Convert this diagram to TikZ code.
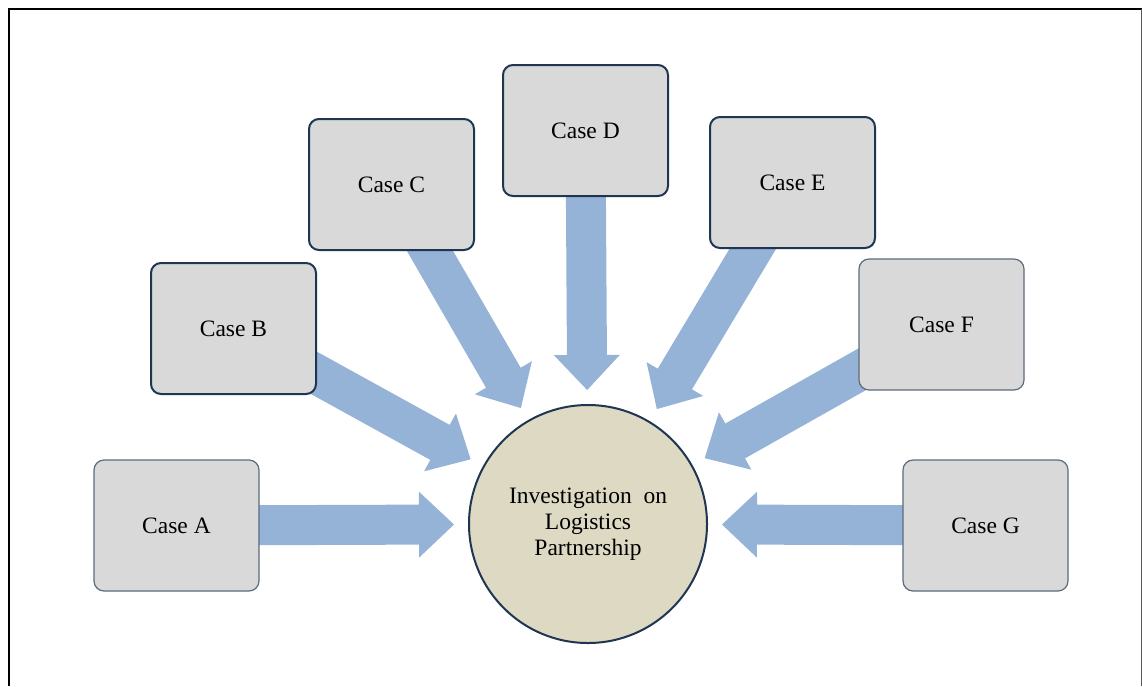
\documentclass[tikz,border=0pt]{standalone}
\usepackage{fontspec}
\setmainfont{Liberation Serif}
\usetikzlibrary{calc,backgrounds}
\definecolor{arrowblue}{HTML}{95B3D7}
\definecolor{boxgray}{HTML}{D9D9D9}
\definecolor{navy}{HTML}{1F3552}
\definecolor{slate}{HTML}{5B6B7C}
\definecolor{hubtan}{HTML}{DDD9C3}
\begin{document}
\begin{tikzpicture}[x=1pt,y=-1pt,
  casebox/.style={rectangle, rounded corners=10pt, fill=boxgray,
    minimum width=165pt, minimum height=131pt, inner sep=0pt,
    font=\fontsize{23.5}{26}\selectfont, text=black},
  darkbox/.style={casebox, draw=navy, line width=2pt},
  lightbox/.style={casebox, draw=slate, line width=1.2pt},
  hubnode/.style={circle, fill=hubtan, draw=navy, line width=2pt,
    minimum size=238pt, inner sep=0pt, align=center,
    font=\fontsize{23.5}{26}\selectfont, text=black},
  flow/.style={fill=arrowblue}]
\useasboundingbox (0,0) rectangle (1142,686);

% frame
\draw[line width=2.6pt] (9,686) -- (9,9) -- (1142,9);
\draw[black!65, line width=1pt] (1141,9) -- (1141,686);

% hub and cases
\node[hubnode] (hub) at (588,524) {Investigation~ on\\Logistics\\Partnership};
\node[lightbox] (A) at (176.5,525.5) {Case A};
\node[darkbox]  (B) at (233.5,328.5) {Case B};
\node[darkbox]  (C) at (391.5,184.5) {Case C};
\node[darkbox]  (D) at (585.5,130.5) {Case D};
\node[darkbox]  (E) at (792.5,182.5) {Case E};
\node[lightbox] (F) at (941.5,324.5) {Case F};
\node[lightbox] (G) at (985.5,525.5) {Case G};

% block arrows from each case towards the hub
\begin{scope}[on background layer]
\foreach \b in {A,B,C,D,E,F,G}{
  \coordinate (t\b) at ($(hub.center)!134pt!(\b.center)$);
  \coordinate (h\b) at ($(t\b)!35pt!(\b.center)$);
  \fill[flow] ($(\b.center)!20pt!90:(t\b)$) -- ($(h\b)!20pt!90:(t\b)$)
    -- ($(h\b)!33pt!90:(t\b)$) -- (t\b) -- ($(h\b)!33pt!-90:(t\b)$)
    -- ($(h\b)!20pt!-90:(t\b)$) -- ($(\b.center)!20pt!-90:(t\b)$) -- cycle;
}
\end{scope}
\end{tikzpicture}
\end{document}
